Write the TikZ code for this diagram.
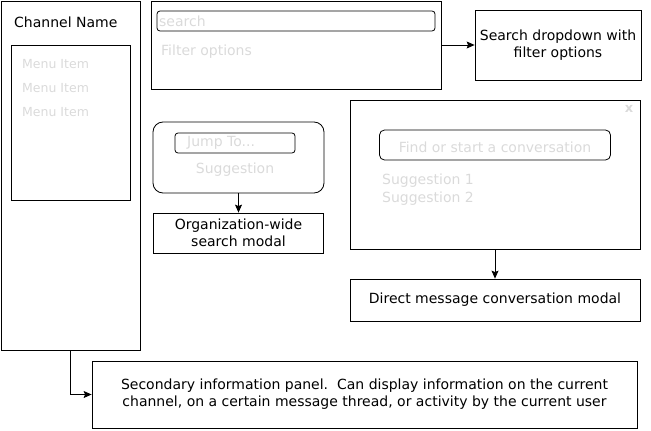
\documentclass[tikz,border=0pt]{standalone}
\usepackage{fontspec}
\setmainfont{DejaVu Sans}
\usepackage{tikz}
\usetikzlibrary{arrows.meta,positioning,calc}
\definecolor{ghostGray}{HTML}{DADADA}
\definecolor{lineBlack}{HTML}{000000}
\tikzset{
  box/.style={draw=lineBlack, line width=0.8pt, inner sep=0pt, align=center, font=\fontsize{14}{17}\selectfont},
  field/.style={box, rounded corners=3pt},
  ghost/.style={text=ghostGray, inner sep=0pt, font=\fontsize{14}{17}\selectfont},
  link/.style={line width=0.8pt, -{Stealth[length=8pt,width=7pt,inset=1.5pt]}}
}
\begin{document}
\begin{tikzpicture}[x=1pt, y=-1pt]
\useasboundingbox (0,0) rectangle (651,431);
\node[box, minimum width=139, minimum height=349] (sidebar) at (70.5,175.5) {};
\node[anchor=west, inner sep=0pt, font=\fontsize{14}{17}\selectfont] (chname) at (14,22) {Channel Name};
\node[box, minimum width=119, minimum height=155] (menu) at (70.5,122.5) {};
\foreach \y/\n in {64/1,88/2,112/3}
  \node[ghost, anchor=west, font=\fontsize{12.5}{15}\selectfont] (item\n) at (22,\y) {Menu Item};
\node[box, minimum width=290, minimum height=88] (searchbar) at (296,45) {};
\node[field, minimum width=278, minimum height=20] (searchfield) at (296,21) {};
\node[ghost, anchor=west] (searchtxt) at (159,21) {search};
\node[ghost, anchor=west] (filtertxt) at (161,52) {Filter options};
\node[box, minimum width=166, minimum height=70] (dropdown) at (558,45) {Search dropdown with\\filter options};
\draw[link] (searchbar) -- (dropdown);
\node[box, rounded corners=10pt, minimum width=171, minimum height=71] (jump) at (238.5,157.5) {};
\node[field, minimum width=120, minimum height=20] (jumpfield) at (235,143) {};
\node[ghost, anchor=west] (jumptxt) at (187,143) {Jump To...};
\node[ghost] (suggest) at (235,170) {Suggestion};
\node[box, minimum width=170, minimum height=40] (orgsearch) at (238.5,233) {Organization-wide\\search modal};
\draw[link] (jump) -- (orgsearch);
\node[box, minimum width=290, minimum height=149] (dm) at (495,174.5) {};
\node[ghost, font=\fontsize{13}{15}\selectfont\bfseries] (close) at (629,109) {x};
\node[field, rounded corners=5pt, minimum width=231, minimum height=30] (dmfield) at (495,145) {};
\node[ghost] (dmtxt) at (495,147) {Find or start a conversation};
\node[ghost, anchor=west] (sug1) at (382,181) {Suggestion 1};
\node[ghost, anchor=west] (sug2) at (382,199) {Suggestion 2};
\node[box, minimum width=290, minimum height=42] (dmmodal) at (495,300) {Direct message conversation modal};
\draw[link] (dm) -- (dmmodal);
\node[box, minimum width=545, minimum height=67] (panel) at (364.5,394.5) {Secondary information panel.\ \ Can display information on the current\\channel, on a certain message thread, or activity by the current user};
\draw[link] (sidebar.south) |- (panel.west);
\end{tikzpicture}
\end{document}
